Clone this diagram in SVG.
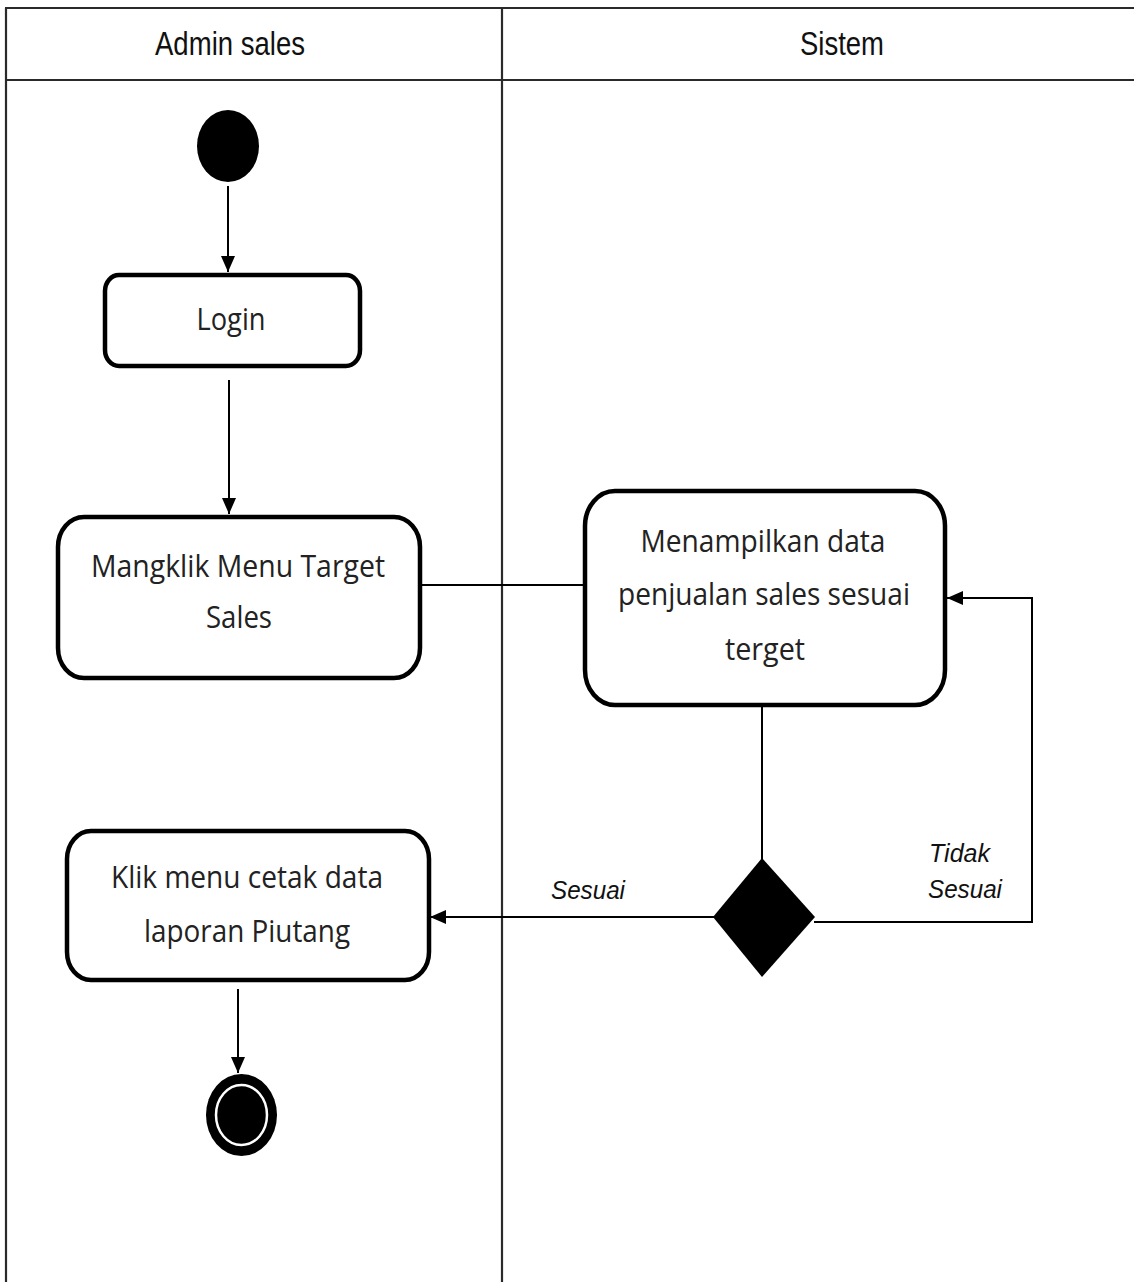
<svg xmlns="http://www.w3.org/2000/svg" width="1134" height="1282" viewBox="0 0 1134 1282">
  <style>
    .lane { stroke: #2a2a2a; stroke-width: 2.2; fill: none; }
    .act { fill: #ffffff; stroke: #000000; stroke-width: 4.5; }
    .conn { stroke: #000000; stroke-width: 2; fill: none; }
    .hdr { font-family: "Liberation Sans", Arial, sans-serif; font-size: 28px; fill: #111; text-anchor: middle; }
    .lbl { font-family: "Open Sans", "Noto Sans", sans-serif; font-size: 27px; fill: #222; text-anchor: middle; }
    .guard { font-family: "Liberation Sans", Arial, sans-serif; font-style: italic; font-size: 25px; fill: #111; }
  </style>
  <defs>
    <marker id="arrow" markerUnits="userSpaceOnUse" markerWidth="16" markerHeight="20" viewBox="0 0 16 20" refX="16" refY="8" orient="auto">
      <path d="M0,1 L16,8 L0,15 Z" fill="#000"/>
    </marker>
  </defs>

  <rect width="1134" height="1282" fill="#ffffff"/>

  <!-- swimlanes -->
  <g id="lanes">
    <line class="lane" x1="5" y1="8" x2="1134" y2="8"/>
    <line class="lane" x1="5" y1="80" x2="1134" y2="80"/>
    <line class="lane" x1="6" y1="8" x2="6" y2="1282"/>
    <line class="lane" x1="502" y1="8" x2="502" y2="1282"/>
    <text class="hdr" transform="translate(230,55) scale(1,1.16)" textLength="150" lengthAdjust="spacingAndGlyphs">Admin sales</text>
    <text class="hdr" transform="translate(842,55) scale(1,1.16)" textLength="84" lengthAdjust="spacingAndGlyphs">Sistem</text>
  </g>

  <!-- connectors -->
  <g id="connectors">
    <line class="conn" x1="228" y1="186" x2="228" y2="272" marker-end="url(#arrow)"/>
    <line class="conn" x1="229" y1="380" x2="229" y2="514" marker-end="url(#arrow)"/>
    <line class="conn" x1="420" y1="585" x2="586" y2="585"/>
    <line class="conn" x1="762" y1="705" x2="762" y2="860"/>
    <line class="conn" x1="714" y1="917" x2="430" y2="917" marker-end="url(#arrow)"/>
    <polyline class="conn" points="814,922 1032,922 1032,598 947,598" marker-end="url(#arrow)"/>
    <line class="conn" x1="238" y1="989" x2="238" y2="1073" marker-end="url(#arrow)"/>
    <text class="guard" x="551" y="899" textLength="74" lengthAdjust="spacingAndGlyphs">Sesuai</text>
    <text class="guard" x="929" y="862" textLength="61" lengthAdjust="spacingAndGlyphs">Tidak</text>
    <text class="guard" x="928" y="898" textLength="74" lengthAdjust="spacingAndGlyphs">Sesuai</text>
  </g>

  <!-- start node -->
  <g id="start">
    <ellipse cx="228" cy="146" rx="31" ry="36" fill="#000"/>
  </g>

  <g id="login">
    <rect class="act" x="105" y="275" width="255" height="91" rx="14" ry="16"/>
    <text class="lbl" transform="translate(231,330) scale(1,1.16)" textLength="69" lengthAdjust="spacingAndGlyphs">Login</text>
  </g>

  <g id="menu-target">
    <rect class="act" x="58" y="517" width="362" height="161" rx="26" ry="30"/>
    <text class="lbl" transform="translate(238,577) scale(1,1.16)" textLength="294" lengthAdjust="spacingAndGlyphs">Mangklik Menu Target</text>
    <text class="lbl" transform="translate(239,628) scale(1,1.16)" textLength="66" lengthAdjust="spacingAndGlyphs">Sales</text>
  </g>

  <g id="tampil-data">
    <rect class="act" x="585" y="491" width="360" height="214" rx="30" ry="35"/>
    <text class="lbl" transform="translate(763,552) scale(1,1.16)" textLength="245" lengthAdjust="spacingAndGlyphs">Menampilkan data</text>
    <text class="lbl" transform="translate(764,605) scale(1,1.16)" textLength="292" lengthAdjust="spacingAndGlyphs">penjualan sales sesuai</text>
    <text class="lbl" transform="translate(765,660) scale(1,1.16)" textLength="80" lengthAdjust="spacingAndGlyphs">terget</text>
  </g>

  <g id="decision">
    <polygon points="762,858 815,917 762,977 713,917" fill="#000"/>
  </g>

  <g id="cetak-laporan">
    <rect class="act" x="67" y="831" width="362" height="149" rx="24" ry="28"/>
    <text class="lbl" transform="translate(247,888) scale(1,1.16)" textLength="272" lengthAdjust="spacingAndGlyphs">Klik menu cetak data</text>
    <text class="lbl" transform="translate(247,942) scale(1,1.16)" textLength="206" lengthAdjust="spacingAndGlyphs">laporan Piutang</text>
  </g>

  <!-- end node -->
  <g id="end">
    <ellipse cx="241.5" cy="1115" rx="35.5" ry="41" fill="#000"/>
    <ellipse cx="241.5" cy="1115" rx="25.5" ry="30" fill="none" stroke="#fff" stroke-width="2.5"/>
  </g>
</svg>
